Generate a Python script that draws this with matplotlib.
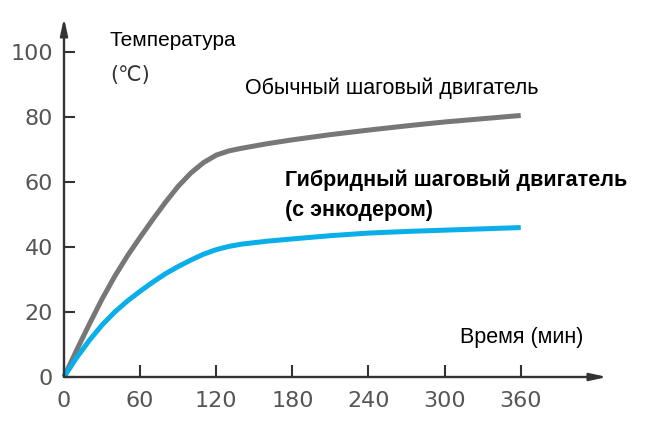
import numpy as np
import matplotlib
matplotlib.use('Agg')
import matplotlib.pyplot as plt

# time (min) and temperature (C)
t_std = [0, 10, 20, 30, 40, 50, 60, 70, 80, 90, 100, 110, 120, 130, 140,
         160, 180, 210, 240, 270, 300, 330, 360]
temp_std = [0, 8.3, 16.3, 24, 31, 37.3, 43, 48.5, 53.8, 58.7, 62.8, 66, 68.3, 69.6, 70.4,
            71.8, 73, 74.6, 76, 77.3, 78.5, 79.5, 80.5]

t_hyb = [0, 10, 20, 30, 40, 50, 60, 70, 80, 90, 100, 110, 120, 130, 140,
         160, 180, 210, 240, 270, 300, 330, 360]
temp_hyb = [0, 6, 11.3, 16, 20, 23.4, 26.4, 29.2, 31.8, 34, 36, 37.8, 39.2, 40.2, 40.9,
            41.8, 42.5, 43.5, 44.3, 44.8, 45.2, 45.6, 46]

xticks = [0, 60, 120, 180, 240, 300, 360]
yticks = [0, 20, 40, 60, 80, 100]

W, H = 655, 433
fig = plt.figure(figsize=(W / 100, H / 100), dpi=100)
ax = fig.add_axes([64 / W, (H - 377) / H, (607 - 64) / W, (377 - 18) / H])

xmax, ymax = 428, 110.5
ax.set_xlim(0, xmax)
ax.set_ylim(0, ymax)

ax.plot(t_std, temp_std, color='#777777', lw=3.6, solid_capstyle='butt',
        solid_joinstyle='round', clip_on=False)
ax.plot(t_hyb, temp_hyb, color='#0aaee8', lw=3.6, solid_capstyle='butt',
        solid_joinstyle='round', clip_on=False)

for s in ax.spines.values():
    s.set_visible(False)

axis_col = '#333333'
arrow = dict(arrowstyle='-|>,head_length=1.0,head_width=0.22', color=axis_col, lw=1.7,
             shrinkA=0, shrinkB=0)
ax.annotate('', xy=(xmax, 0), xytext=(0, 0), arrowprops=arrow, annotation_clip=False)
ax.annotate('', xy=(0, ymax), xytext=(0, 0), arrowprops=arrow, annotation_clip=False)

lab_font = dict(family=['DejaVu Sans'], color='#555555', fontsize=16)
ax.set_xticks(xticks)
ax.set_yticks(yticks)
ax.set_xticklabels([str(v) for v in xticks], **lab_font)
ax.set_yticklabels([str(v) for v in yticks], **lab_font)
ax.tick_params(axis='x', direction='in', length=8.5, width=1.5, color=axis_col, pad=10)
ax.tick_params(axis='y', direction='in', length=8, width=1.5, color=axis_col, pad=8)

fam = ['Liberation Sans', 'DejaVu Sans']
fs = 15.5
fig.text(110 / W, 1 - 40 / H, 'Температура', family=fam, fontsize=15, va='center', ha='left')
fig.text(110 / W, 1 - 75 / H, '(℃)', family=['DejaVu Sans'], fontsize=15, va='center',
         ha='left', color='#333333')
fig.text(245 / W, 1 - 88 / H, 'Обычный шаговый двигатель', family=fam, fontsize=fs,
         va='center', ha='left')
fig.text(285 / W, 1 - 180 / H, 'Гибридный шаговый двигатель', family=fam, fontsize=fs,
         fontweight='bold', va='center', ha='left')
fig.text(285 / W, 1 - 210 / H, '(с энкодером)', family=fam, fontsize=fs,
         fontweight='bold', va='center', ha='left')
fig.text(460 / W, 1 - 338 / H, 'Время (мин)', family=fam, fontsize=fs, va='center', ha='left')

fig.savefig('out.png', dpi=100)
